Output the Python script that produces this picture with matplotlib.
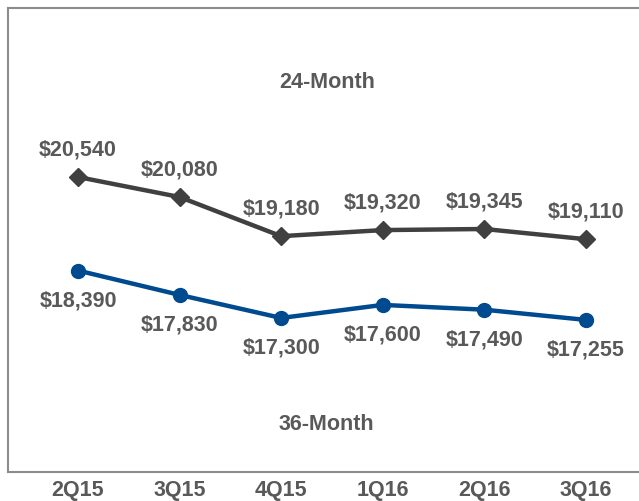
import numpy as np
import matplotlib.pyplot as plt

quarters = ["2Q15", "3Q15", "4Q15", "1Q16", "2Q16", "3Q16"]
values_24 = [20540, 20080, 19180, 19320, 19345, 19110]
values_36 = [18390, 17830, 17300, 17600, 17490, 17255]

gray = "#404040"
blue = "#004a8f"
txt = "#595959"

plt.rcParams['font.family'] = ['Liberation Sans', 'DejaVu Sans']

fig = plt.figure(figsize=(6.39, 5.02), dpi=100)
# axes box runs past the right edge, like the cropped original
ax = fig.add_axes([8/639, 29/502, 650/639, 464/502])

x = np.arange(len(quarters))
ax.plot(x, values_24, color=gray, lw=3.2, marker="D", ms=9, zorder=3)
ax.plot(x, values_36, color=blue, lw=3.2, marker="o", ms=10, zorder=3)

for i, v in enumerate(values_24):
    ax.annotate(f"${v:,}", (i, v), xytext=(0, 28), textcoords="offset pixels",
                ha="center", va="center", fontsize=15.5, fontweight="bold", color=txt)
for i, v in enumerate(values_36):
    ax.annotate(f"${v:,}", (i, v), xytext=(0, -29), textcoords="offset pixels",
                ha="center", va="center", fontsize=15.5, fontweight="bold", color=txt)

ax.text(2.45, 22724, "24-Month", ha="center", va="center", fontsize=15.5,
        fontweight="bold", color=txt)
ax.text(2.45, 14885, "36-Month", ha="center", va="center", fontsize=15.5,
        fontweight="bold", color=txt)

ax.set_xlim(-0.689, 5.71)
ax.set_ylim(13759, 24425)
ax.set_xticks(x)
ax.set_xticklabels(quarters, fontsize=15.5, fontweight="bold", color=txt)
ax.tick_params(axis="x", length=0, pad=5)
ax.set_yticks([])
for s in ax.spines.values():
    s.set_color("#8c8c8c")
    s.set_linewidth(1.5)

fig.savefig("out.png", dpi=100)
